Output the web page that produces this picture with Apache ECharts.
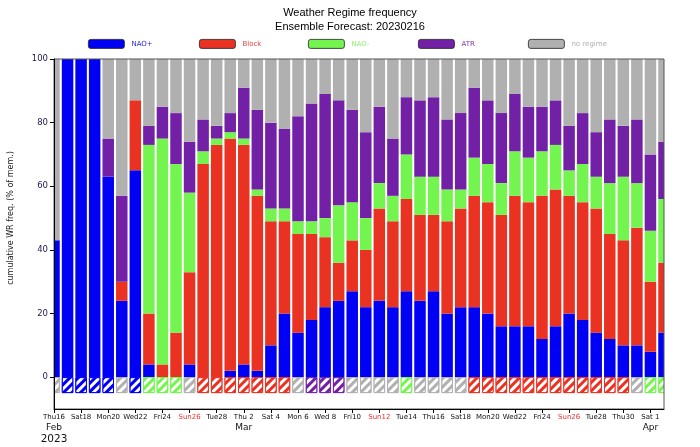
<!DOCTYPE html>
<html><head><meta charset="utf-8">
<script src="https://cdn.jsdelivr.net/npm/echarts@6/dist/echarts.min.js"></script>
<style>html,body{margin:0;padding:0;background:#fff}#c{width:700px;height:447px}</style>
</head><body><div id="c"></div>
<script>
const days = ['Thu16','Fri17','Sat18','Sun19','Mon20','Tue21','Wed22','Thu23','Fri24','Sat25','Sun26','Mon27','Tue28',
  'Wed 1','Thu 2','Fri 3','Sat 4','Sun 5','Mon 6','Tue 7','Wed 8','Thu 9','Fri10','Sat11','Sun12','Mon13','Tue14','Wed15',
  'Thu16','Fri17','Sat18','Sun19','Mon20','Tue21','Wed22','Thu23','Fri24','Sat25','Sun26','Mon27','Tue28','Wed29','Thu30','Fri31',
  'Sat 1','Sun 2'];
const monthIdx = [0, 14, 44];
const monthNames = ['Feb', 'Mar', 'Apr'];
const yearLabel = '2023';
const yTicks = [0, 20, 40, 60, 80, 100];

const naoPlus = [43,100,100,100,63,24,65,4,0,0,4,0,0,2,4,2,10,20,14,18,22,24,27,22,24,22,27,24,27,20,22,22,20,16,16,16,12,16,20,18,14,12,10,10,8,14];
const block   = [0,0,0,0,0,6,22,16,4,14,29,67,73,73,69,55,39,29,31,27,22,12,16,18,29,27,29,27,24,29,31,35,35,35,41,39,45,43,37,37,39,33,33,37,22,22];
const naoMinus= [0,0,0,0,0,0,0,53,71,53,25,4,2,2,2,2,4,4,4,4,6,18,12,10,8,8,14,12,12,10,6,12,12,10,14,14,14,14,8,12,10,16,20,14,16,20];
const atr     = [0,0,0,0,12,27,0,6,10,16,16,10,4,6,16,25,27,25,33,37,39,33,29,27,24,18,18,24,25,22,24,22,20,22,18,16,14,14,14,16,14,20,16,20,24,18];
const noRegime= [57,0,0,0,25,43,13,21,15,17,26,19,21,17,9,16,20,22,18,14,11,13,16,23,15,25,12,13,12,19,17,9,13,17,11,15,15,13,21,17,23,19,21,19,30,26];
const dominant = ['no regime','NAO+','NAO+','NAO+','NAO+','no regime','NAO+','NAO-','NAO-','NAO-','no regime',
  'Block','Block','Block','Block','Block','Block','Block','no regime','ATR','ATR','ATR',
  'no regime','no regime','no regime','no regime','NAO-','no regime','no regime','no regime','no regime',
  'Block','Block','Block','Block','Block','Block','Block','Block','Block','Block','Block','Block',
  'no regime','NAO-','NAO-'];
const hatchDepth = -5;

const regimes = ['NAO+', 'Block', 'NAO-', 'ATR', 'no regime'];
const colors = {'NAO+':'#0000f5','Block':'#ea3222','NAO-':'#74f44e','ATR':'#7220a6','no regime':'#b0b0b0'};
const textColors = {'NAO+':'#2a2ad0','Block':'#e8404a','NAO-':'#8ef070','ATR':'#7a3aa8','no regime':'#b0b0b0'};
const values = {'NAO+':naoPlus,'Block':block,'NAO-':naoMinus,'ATR':atr,'no regime':noRegime};
const legendLeft = [88, 199, 308, 418, 528];

const GRID = {left: 54, right: 36, top: 59, bottom: 38};
const W = 700, H = 447;
const chart = echarts.init(document.getElementById('c'), null, {renderer:'canvas'});
const BW = 11.5;
const series = regimes.map(r => ({
  name: r, type: 'bar', stack: 'wr', barWidth: BW, data: values[r],
  itemStyle: {color: colors[r]}, emphasis: {disabled: true}, animation: false
}));
series.push({
  name: 'dominant', type: 'bar', stack: 'wr', barWidth: BW, animation: false,
  data: dominant.map(d => ({value: hatchDepth, itemStyle: {color: colors[d], borderColor: colors[d]}})),
  itemStyle: {borderWidth: 1, decal: {symbol: 'rect', symbolSize: 1, dashArrayX: [1, 0], dashArrayY: [2.5, 2.5], rotation: -Math.PI / 4, color: '#ffffff'}}
});

const isSun = s => s.indexOf('Sun') === 0;
const plotBottom = H - GRID.bottom, plotRight = W - GRID.right;
chart.setOption({
  animation: false,
  title: {text: 'Weather Regime frequency\nEnsemble Forecast: 20230216', left: 'center', top: 1,
    textStyle: {fontFamily: 'Liberation Sans', fontSize: 11, fontWeight: 'normal', color: '#000', lineHeight: 14}},
  legend: regimes.map((r, i) => ({
    data: [r], left: legendLeft[i], top: 39, itemWidth: 36, itemHeight: 9, itemGap: 0, padding: 0,
    selectedMode: false, itemStyle: {borderColor: '#222', borderWidth: 0.8},
    textStyle: {fontFamily: 'DejaVu Sans', fontSize: 7, color: textColors[r], padding: [0, 0, 0, 2]}
  })),
  grid: Object.assign({show: true, borderColor: '#555', borderWidth: 1, z: 10, backgroundColor: 'transparent'}, GRID),
  xAxis: {
    type: 'category', data: days, boundaryGap: false, z: 10,
    axisLine: {onZero: false, lineStyle: {color: '#000', width: 1}},
    axisTick: {interval: 1, length: 4, lineStyle: {color: '#000'}},
    axisLabel: {
      interval: 1, margin: 4, fontFamily: 'DejaVu Sans',
      formatter: (v, idx) => {
        let s = isSun(v) ? '{r|' + v + '}' : '{d|' + v + '}';
        const mi = monthIdx.indexOf(idx);
        if (mi >= 0) s += '\n{m|' + monthNames[mi] + '}';
        if (idx === 0) s += '\n{y|' + yearLabel + '}';
        return s;
      },
      rich: {
        d: {fontFamily: 'DejaVu Sans', fontSize: 7, color: '#111', lineHeight: 9},
        r: {fontFamily: 'DejaVu Sans', fontSize: 7, color: '#e83030', lineHeight: 9},
        m: {fontFamily: 'DejaVu Sans', fontSize: 9, color: '#111', lineHeight: 11},
        y: {fontFamily: 'DejaVu Sans', fontSize: 10.5, color: '#111', lineHeight: 12}
      }
    },
    splitLine: {show: false}
  },
  yAxis: {
    type: 'value', min: -10, max: 100, z: 10,
    axisLine: {show: true, lineStyle: {color: '#000', width: 1}},
    axisTick: {show: true, length: 4, customValues: yTicks, lineStyle: {color: '#000'}},
    axisLabel: {customValues: yTicks, margin: 6, fontFamily: 'DejaVu Sans', fontSize: 8.5, color: '#1c1c50'},
    splitLine: {show: false}
  },
  graphic: [
    {type: 'rect', z: 5, silent: true, shape: {x: GRID.left - 16, y: GRID.top - 2, width: 16, height: plotBottom - GRID.top + 4}, style: {fill: '#fff'}},
    {type: 'rect', z: 5, silent: true, shape: {x: plotRight, y: GRID.top - 2, width: 16, height: plotBottom - GRID.top + 4}, style: {fill: '#fff'}},
    {type: 'text', x: 11, y: 218, rotation: Math.PI / 2, z: 11,
     style: {text: 'cumulative WR freq. (% of mem.)', fontFamily: 'DejaVu Sans', fontSize: 8, fill: '#222',
       textAlign: 'center', textVerticalAlign: 'middle'}}
  ],
  series: series
});
</script></body></html>
